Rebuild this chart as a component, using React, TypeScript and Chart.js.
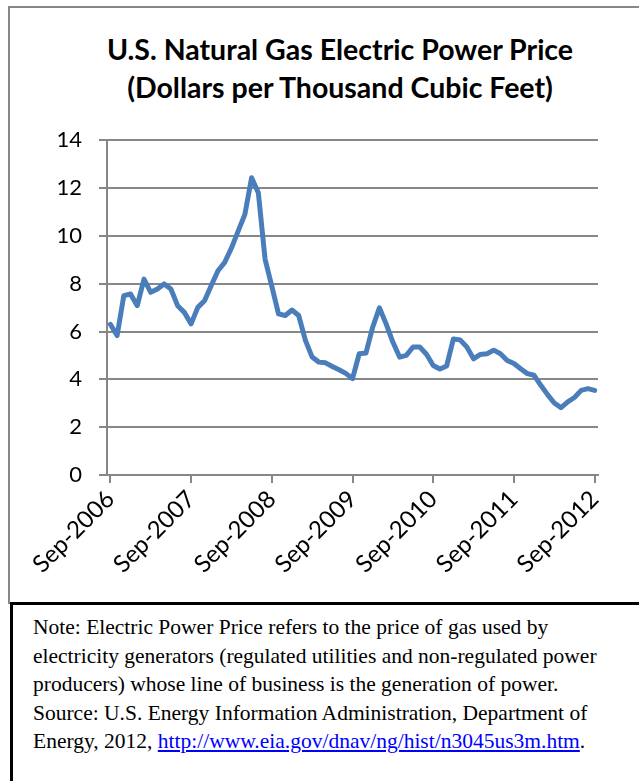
import React, { useEffect, useRef } from "react";
import { Chart, registerables } from "chart.js";

Chart.register(...registerables);

// Monthly categories, Sep-2006 through Sep-2012
const MONTHS: string[] = [
  "Sep-2006", "Oct-2006", "Nov-2006", "Dec-2006",
  "Jan-2007", "Feb-2007", "Mar-2007", "Apr-2007", "May-2007", "Jun-2007", "Jul-2007", "Aug-2007", "Sep-2007", "Oct-2007", "Nov-2007", "Dec-2007",
  "Jan-2008", "Feb-2008", "Mar-2008", "Apr-2008", "May-2008", "Jun-2008", "Jul-2008", "Aug-2008", "Sep-2008", "Oct-2008", "Nov-2008", "Dec-2008",
  "Jan-2009", "Feb-2009", "Mar-2009", "Apr-2009", "May-2009", "Jun-2009", "Jul-2009", "Aug-2009", "Sep-2009", "Oct-2009", "Nov-2009", "Dec-2009",
  "Jan-2010", "Feb-2010", "Mar-2010", "Apr-2010", "May-2010", "Jun-2010", "Jul-2010", "Aug-2010", "Sep-2010", "Oct-2010", "Nov-2010", "Dec-2010",
  "Jan-2011", "Feb-2011", "Mar-2011", "Apr-2011", "May-2011", "Jun-2011", "Jul-2011", "Aug-2011", "Sep-2011", "Oct-2011", "Nov-2011", "Dec-2011",
  "Jan-2012", "Feb-2012", "Mar-2012", "Apr-2012", "May-2012", "Jun-2012", "Jul-2012", "Aug-2012", "Sep-2012",
];

// Electric power price, dollars per thousand cubic feet
const PRICE: number[] = [
  6.3, 5.83, 7.5, 7.57,
  7.08, 8.19, 7.64, 7.78, 7.99, 7.78, 7.08, 6.8, 6.32, 7.01, 7.29, 7.92,
  8.54, 8.89, 9.49, 10.2, 10.9, 12.43, 11.8, 9.03, 7.9, 6.74, 6.67, 6.9,
  6.67, 5.63, 4.93, 4.72, 4.69, 4.54, 4.4, 4.25, 4.03, 5.07, 5.1, 6.18,
  6.99, 6.32, 5.56, 4.93, 5.0, 5.35, 5.35, 5.05, 4.58, 4.43, 4.56, 5.69,
  5.65, 5.35, 4.86, 5.04, 5.07, 5.22, 5.07, 4.79, 4.66, 4.44, 4.24, 4.17,
  3.75, 3.36, 3.01, 2.82, 3.06, 3.24, 3.54, 3.61, 3.54,
];

// Category-axis labels, one per year
const X_TICK_LABELS: string[] = ["Sep-2006", "Sep-2007", "Sep-2008", "Sep-2009", "Sep-2010", "Sep-2011", "Sep-2012"];
const X_TICK_EVERY = 12;

const Y_MIN = 0;
const Y_MAX = 14;
const Y_STEP = 2;

const TITLE_LINES: string[] = [
  "U.S. Natural Gas Electric Power Price",
  "(Dollars per Thousand Cubic Feet)",
];

const GRID = "#878787";
const LINE = "#4a7ebb";
const AXIS_FONT = "Lato, 'Open Sans', sans-serif";

function PriceChart() {
  const ref = useRef<HTMLCanvasElement | null>(null);

  useEffect(() => {
    if (!ref.current) return;
    const chart = new Chart(ref.current, {
      type: "line",
      data: {
        labels: MONTHS,
        datasets: [
          {
            data: PRICE,
            borderColor: LINE,
            borderWidth: 5,
            pointRadius: 0,
            tension: 0,
            borderJoinStyle: "round",
            borderCapStyle: "round",
            fill: false,
          },
        ],
      },
      options: {
        animation: false,
        responsive: false,
        maintainAspectRatio: false,
        layout: { padding: { top: 29, right: 41, left: 0, bottom: 0 } },
        plugins: {
          legend: { display: false },
          tooltip: { enabled: false },
          title: { display: false },
        },
        scales: {
          x: {
            type: "category",
            offset: true,
            border: { display: true, color: GRID, width: 2 },
            grid: {
              offset: false,
              drawOnChartArea: false,
              drawTicks: true,
              tickLength: 8,
              lineWidth: 2,
              color: (ctx: any) => (ctx.index % X_TICK_EVERY === 0 ? GRID : "rgba(0,0,0,0)"),
            },
            ticks: {
              autoSkip: false,
              minRotation: 45,
              maxRotation: 45,
              padding: 2,
              color: "#000",
              font: { family: AXIS_FONT, size: 24 },
              callback: (_v: any, i: number) =>
                i % X_TICK_EVERY === 0 ? X_TICK_LABELS[i / X_TICK_EVERY] : "",
            },
            afterFit: (scale: any) => {
              scale.height = 125;
            },
          },
          y: {
            min: Y_MIN,
            max: Y_MAX,
            border: { display: true, color: GRID, width: 2 },
            grid: { color: GRID, lineWidth: 2, tickLength: 8 },
            ticks: {
              stepSize: Y_STEP,
              padding: 17,
              color: "#000",
              font: { family: AXIS_FONT, size: 22 },
            },
            afterFit: (scale: any) => {
              scale.width = 97;
            },
          },
        },
      },
    });
    return () => chart.destroy();
  }, []);

  return (
    <canvas
      ref={ref}
      width={629}
      height={490}
      style={{ position: "absolute", left: 10, top: 110, width: 629, height: 490 }}
    />
  );
}

export default function App() {
  return (
    <div
      style={{
        position: "absolute",
        left: 0,
        top: 0,
        width: 639,
        height: 781,
        overflow: "hidden",
        background: "#fff",
      }}
    >
      <div
        style={{
          position: "absolute",
          left: 8,
          top: 6,
          width: 700,
          height: 598,
          borderLeft: `2px solid ${GRID}`,
          borderTop: `2px solid ${GRID}`,
          boxSizing: "border-box",
        }}
      />
      <div
        style={{
          position: "absolute",
          left: 8,
          top: 30,
          width: 664,
          textAlign: "center",
          fontFamily: "Lato, 'Open Sans', sans-serif",
          fontWeight: 700,
          fontSize: 28.5,
          lineHeight: "38px",
          color: "#000",
        }}
      >
        {TITLE_LINES.map((t) => (
          <div key={t}>{t}</div>
        ))}
      </div>
      <PriceChart />
      <div
        style={{
          position: "absolute",
          left: 10,
          top: 602,
          width: 700,
          height: 300,
          border: "3px solid #000",
          boxSizing: "border-box",
          padding: "8px 0 0 20px",
          fontFamily: "'Liberation Serif', 'Times New Roman', serif",
          fontSize: 21.5,
          lineHeight: "28.5px",
          color: "#000",
          whiteSpace: "nowrap",
        }}
      >
        Note: Electric Power Price refers to the price of gas used by
        <br />
        electricity generators (regulated utilities and non-regulated power
        <br />
        producers) whose line of business is the generation of power.
        <br />
        Source: U.S. Energy Information Administration, Department of
        <br />
        Energy, 2012,{" "}
        <a href="http://www.eia.gov/dnav/ng/hist/n3045us3m.htm" style={{ color: "#0000ff" }}>
          http://www.eia.gov/dnav/ng/hist/n3045us3m.htm
        </a>
        .
      </div>
    </div>
  );
}
